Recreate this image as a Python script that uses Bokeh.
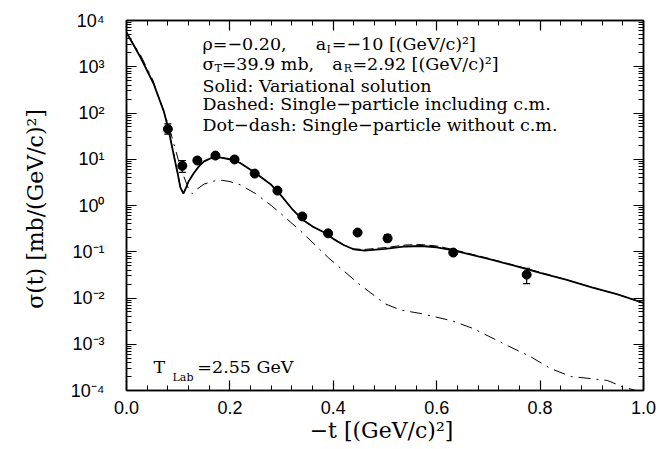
from bokeh.plotting import figure
from bokeh.models import (ColumnDataSource, Whisker, TeeHead, LinearAxis, LogAxis,
                          SingleIntervalTicker, LogTicker, CustomJSTickFormatter,
                          NumeralTickFormatter, Range1d)
from bokeh.core.properties import value
from bokeh.embed import file_html
from bokeh.resources import INLINE

# ---------------- data ----------------
data_t = [0.08, 0.108, 0.137, 0.172, 0.209, 0.248, 0.292, 0.34, 0.39, 0.447, 0.505, 0.632, 0.774]
data_s = [45, 7.2, 9.4, 12.0, 9.9, 4.9, 2.1, 0.58, 0.25, 0.26, 0.195, 0.096, 0.032]
data_lo = [35, 5.2, 8.6, 11.0, 9.0, 4.4, 1.85, 0.52, 0.22, 0.24, 0.165, 0.085, 0.0204]
data_hi = [58, 9.4, 10.3, 13.1, 10.9, 5.4, 2.4, 0.65, 0.28, 0.28, 0.235, 0.11, 0.044]

solid_t = [0.0, 0.027, 0.052, 0.072, 0.081, 0.091, 0.099, 0.104, 0.11, 0.115, 0.12, 0.13,
           0.14, 0.15, 0.165, 0.18, 0.2, 0.22, 0.25, 0.28, 0.3, 0.32, 0.34, 0.36, 0.38,
           0.4, 0.42, 0.44, 0.46, 0.5, 0.54, 0.57, 0.6, 0.63, 0.66, 0.7, 0.75, 0.8,
           0.85, 0.9, 0.95, 1.0]
solid_s = [5500, 1600, 440, 110, 45, 13, 4.9, 2.5, 1.8, 2.4, 3.3, 5.0,
           7.0, 9.0, 10.8, 11.0, 10.0, 8.3, 5.0, 2.8, 1.6, 0.85, 0.5, 0.35, 0.27,
           0.19, 0.14, 0.112, 0.106, 0.115, 0.13, 0.133, 0.125, 0.108, 0.09, 0.07, 0.05, 0.035,
           0.025, 0.017, 0.012, 0.0078]

dash_t = [0.0, 0.027, 0.052, 0.072, 0.081, 0.091, 0.099, 0.104, 0.11, 0.115, 0.12, 0.13,
          0.14, 0.15, 0.165, 0.18, 0.2, 0.22, 0.25, 0.28, 0.3, 0.32, 0.34, 0.36, 0.38,
          0.4, 0.42, 0.44, 0.46, 0.5, 0.54, 0.57, 0.6, 0.63, 0.66, 0.7, 0.75, 0.8,
          0.85, 0.9, 0.95, 1.0]
dash_s = [5600, 1650, 450, 112, 46, 13.5, 5.1, 2.6, 1.85, 2.4, 3.3, 5.0,
          7.0, 9.0, 10.8, 11.0, 10.0, 8.3, 5.0, 2.8, 1.6, 0.85, 0.5, 0.35, 0.27,
          0.19, 0.14, 0.115, 0.112, 0.123, 0.14, 0.143, 0.133, 0.113, 0.093, 0.072, 0.051, 0.036,
          0.025, 0.017, 0.012, 0.0078]

dd_t = [0.0, 0.027, 0.05, 0.08, 0.09, 0.1, 0.11, 0.12, 0.127, 0.135, 0.15, 0.17, 0.185,
        0.2, 0.22, 0.25, 0.28, 0.3, 0.34, 0.39, 0.45, 0.5, 0.53, 0.57, 0.63, 0.67, 0.7,
        0.74, 0.78, 0.82, 0.86, 0.9, 0.93, 0.96, 0.985, 1.0]
dd_s = [5500, 1800, 550, 60, 25, 10, 4.5, 2.3, 1.8, 2.2, 2.9, 3.4, 3.5,
        3.3, 2.8, 1.8, 1.0, 0.65, 0.26, 0.075, 0.02, 0.0075, 0.0055, 0.0046, 0.0032, 0.0022, 0.0015,
        0.0009, 0.00055, 0.0003, 0.0002, 0.00018, 0.000165, 0.00012, 0.0001, 0.00007]

x_ticks_interval = 0.2
y_label = "σ(t)  [mb/(GeV/c)²]"
x_label = "−t  [(GeV/c)²]"

# annotation text pieces (text, t, sigma)
main_texts = ["ρ=−0.20,", "a", "=−10  [(GeV/c)²]",
              "σ", "=39.9  mb,", "a", "=2.92  [(GeV/c)²]",
              "Solid: Variational solution",
              "Dashed: Single−particle including c.m.",
              "Dot−dash: Single−particle without c.m.",
              "T", "=2.55  GeV"]
main_x = [0.147, 0.366, 0.397,
          0.147, 0.184, 0.398, 0.437,
          0.147, 0.147, 0.147,
          0.052, 0.137]
main_y = [3030, 3030, 3030,
          1175, 1175, 1175, 1175,
          393, 153, 53.7,
          3.3e-4, 3.3e-4]
sub_texts = ["I", "T", "R", "Lab"]
sub_x = [0.387, 0.170, 0.420, 0.089]
sub_y = [2360, 916, 916, 1.91e-4]

SERIF = "DejaVu Serif"
SANS = "Liberation Sans"

# ---------------- figure ----------------
p = figure(width=658, height=449, y_axis_type="log", output_backend="svg",
           toolbar_location=None, x_range=Range1d(0, 1), y_range=Range1d(1e-4, 1e4),
           min_border_left=126, min_border_right=15, min_border_top=20, min_border_bottom=59)
p.grid.visible = False
p.outline_line_color = "black"
p.outline_line_width = 1.5
p.background_fill_color = "white"
p.border_fill_color = "white"

xt = SingleIntervalTicker(interval=x_ticks_interval, num_minor_ticks=5)
yt = LogTicker(desired_num_ticks=10, num_minor_ticks=10)

sup_fmt = CustomJSTickFormatter(code="""
const m = {'-':'\u207b','0':'\u2070','1':'\u00b9','2':'\u00b2','3':'\u00b3','4':'\u2074',
           '5':'\u2075','6':'\u2076','7':'\u2077','8':'\u2078','9':'\u2079'};
const e = Math.round(Math.log10(tick));
return '10' + String(e).split('').map(c => m[c]).join('');
""")
blank = CustomJSTickFormatter(code="return '';")

def style(ax):
    ax.major_tick_in = 10
    ax.major_tick_out = 0
    ax.minor_tick_in = 5
    ax.minor_tick_out = 0
    ax.axis_line_color = "black"
    ax.axis_line_width = 1.5
    ax.major_tick_line_color = "black"
    ax.minor_tick_line_color = "black"
    ax.major_tick_line_width = 1.2
    ax.minor_tick_line_width = 1
    ax.major_label_text_font = SANS
    ax.major_label_text_font_size = "18px"
    ax.major_label_text_color = "black"
    ax.axis_label_text_font = SERIF
    ax.axis_label_text_font_size = "22px"
    ax.axis_label_text_font_style = "normal"
    ax.axis_label_text_color = "black"

xa = p.xaxis[0]
xa.ticker = xt
xa.formatter = NumeralTickFormatter(format="0.0")
style(xa)
xa.major_label_standoff = 10
xa.axis_label = x_label
xa.axis_label_standoff = 1

ya = p.yaxis[0]
ya.ticker = yt
ya.formatter = sup_fmt
style(ya)
ya.major_label_standoff = 22
ya.axis_label = y_label
ya.axis_label_standoff = 20

top = LinearAxis(ticker=xt, formatter=blank)
style(top)
top.major_label_standoff = 0
p.add_layout(top, "above")
right = LogAxis(ticker=yt, formatter=blank)
style(right)
right.major_label_standoff = 0
p.add_layout(right, "right")

# curves
p.line(solid_t, solid_s, line_color="black", line_width=1.8)
p.line(dash_t, dash_s, line_color="black", line_width=1, line_dash="9 4")
p.line(dd_t, dd_s, line_color="black", line_width=1, line_dash="12 6 2 6")

# data with error bars
src = ColumnDataSource(dict(t=data_t, s=data_s, lo=data_lo, hi=data_hi))
p.add_layout(Whisker(source=src, base="t", lower="lo", upper="hi", line_color="black",
                     line_width=1.2,
                     lower_head=TeeHead(size=7, line_color="black", line_width=1.2),
                     upper_head=TeeHead(size=7, line_color="black", line_width=1.2)))
p.scatter("t", "s", source=src, size=9, color="black")

# texts
p.text(main_x, main_y, text=main_texts, text_font=value(SERIF),
       text_font_size="17.5px", text_color="black", text_baseline="alphabetic", text_align="left")
p.text(sub_x, sub_y, text=sub_texts, text_font=value(SERIF),
       text_font_size="11px", text_color="black", text_baseline="alphabetic", text_align="left")

open("out.html", "w").write(file_html(p, INLINE))
